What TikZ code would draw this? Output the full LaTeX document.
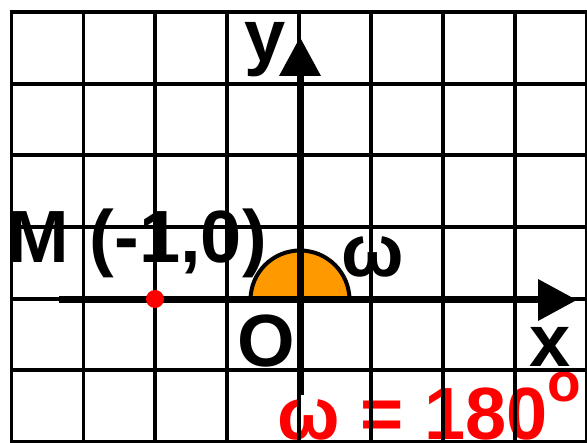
\documentclass[tikz,border=0pt]{standalone}
\usepackage{fontspec}
\setmainfont{Liberation Sans}
\usetikzlibrary{arrows.meta}
\definecolor{arcorange}{RGB}{255,153,0}
\definecolor{pured}{RGB}{255,0,0}
\tikzset{
  gridline/.style={line width=3.8pt, black},
  axisline/.style={line width=7pt, black, -{Triangle[length=39pt,width=40pt]}},
  biglabel/.style={inner sep=0pt, font=\fontsize{74}{80}\selectfont\bfseries},
}
\begin{document}
\begin{tikzpicture}[x=1pt,y=-1pt]
\useasboundingbox (0,0) rectangle (587,443);
\clip (0,0) rectangle (587,443);
\fill[white] (0,0) rectangle (587,443);
% labels
\node[biglabel, anchor=base west] (ylab) at (244,62) {y};
\node[biglabel, anchor=base west] (mlab) at (7.6,263) {M (-1,0)};
\node[biglabel, anchor=base west] (olab) at (237,367) {O};
\node[biglabel, anchor=base west] (xlab) at (529.5,367) {x};
\node[biglabel, anchor=base] (wlab) at (372.5,277) {ω};
\node[biglabel, anchor=base west, text=pured] (angle) at (277,440) {ω = 180\raisebox{38pt}{\fontsize{55}{55}\selectfont o}};
% grid
\foreach \i in {0,...,8} {
  \draw[gridline] ({11.5+71.9*\i},12) -- ({11.5+71.9*\i},442);
}
\foreach \j in {0,...,6} {
  \draw[gridline] (9.6,{12+71.67*\j}) -- (590,{12+71.67*\j});
}
% angle sector
\coordinate (O) at (300,300);
\filldraw[fill=arcorange, draw=black, line width=4pt] ([xshift=-49.5pt]O) arc (180:360:49.5) -- cycle;
% axes
\coordinate (xs) at (59,300);
\coordinate (xe) at (577,300);
\coordinate (ys) at (300,395);
\coordinate (ye) at (300,37);
\draw[axisline] (xs) -- (xe);
\draw[axisline] (ys) -- (ye);
% point M
\node[circle, fill=pured, minimum size=18pt, inner sep=0pt] (M) at (155,299) {};
\end{tikzpicture}
\end{document}
